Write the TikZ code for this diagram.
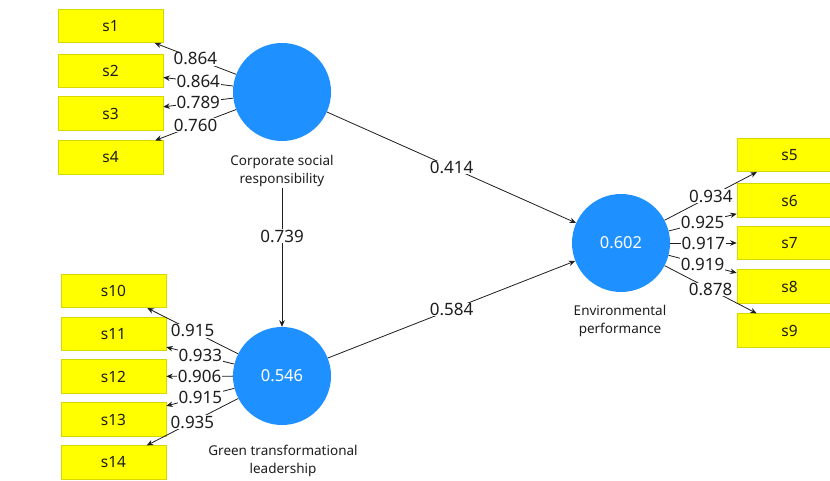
\documentclass[tikz,border=0pt]{standalone}
\usepackage{fontspec}
\setmainfont{Noto Sans}
\usetikzlibrary{arrows.meta}
\definecolor{lvblue}{RGB}{30,144,255}
\definecolor{mvyellow}{RGB}{255,255,0}
\definecolor{mvborder}{RGB}{215,215,0}
\definecolor{txt}{RGB}{30,30,30}
\tikzset{
  lv/.style={circle, fill=lvblue, draw=none, minimum size=98pt, inner sep=0pt, text=white, font=\fontsize{16.5}{18}\selectfont},
  mv/.style={rectangle, fill=mvyellow, draw=mvborder, line width=0.6pt, minimum width=105pt, minimum height=33.5pt, inner sep=0pt, text=txt, font=\fontsize{15.5}{17}\selectfont},
  lvname/.style={align=center, text=txt, font=\fontsize{13.5}{18}\selectfont, inner sep=1pt},
  conn/.style={draw=txt, line width=0.8pt, -{Stealth[length=6.5pt,width=5.5pt]}},
  val/.style={fill=white, inner sep=0.6pt, text=txt, font=\fontsize{17}{18}\selectfont},
}
\begin{document}
\begin{tikzpicture}[x=1pt,y=-1pt]
\useasboundingbox (0,0) rectangle (830,481);
\clip (0,0) rectangle (830,481);
\fill[white] (0,0) rectangle (830,481);
% latent variables
\node[lv] (csr) at (282,92) {};
\node[lv] (gtl) at (282,376) {0.546};
\node[lv] (ep) at (621,243) {0.602};
\node[lvname] (csrname) at (282,171) {Corporate social\\responsibility};
\node[lvname] (gtlname) at (283,461) {Green transformational\\leadership};
\node[lvname] (epname) at (620,321) {Environmental\\performance};
% indicators
\node[mv] (s1) at (110.5,26) {s1};
\node[mv] (s2) at (110.5,71) {s2};
\node[mv] (s3) at (110.5,113.5) {s3};
\node[mv] (s4) at (110.5,157.5) {s4};
\node[mv] (s10) at (113.5,291) {s10};
\node[mv] (s11) at (113.5,334) {s11};
\node[mv] (s12) at (113.5,376.5) {s12};
\node[mv] (s13) at (113.5,419.5) {s13};
\node[mv] (s14) at (113.5,462.5) {s14};
\node[mv] (s5) at (789.5,155) {s5};
\node[mv] (s6) at (789.5,200.5) {s6};
\node[mv] (s7) at (789.5,243) {s7};
\node[mv] (s8) at (789.5,286.5) {s8};
\node[mv] (s9) at (789.5,330.5) {s9};
% outer loadings
\draw[conn] (csr) -- node[val] {0.864} (s1);
\draw[conn] (csr) -- node[val] {0.864} (s2);
\draw[conn] (csr) -- node[val] {0.789} (s3);
\draw[conn] (csr) -- node[val] {0.760} (s4);
\draw[conn] (gtl) -- node[val] {0.915} (s10);
\draw[conn] (gtl) -- node[val] {0.933} (s11);
\draw[conn] (gtl) -- node[val] {0.906} (s12);
\draw[conn] (gtl) -- node[val] {0.915} (s13);
\draw[conn] (gtl) -- node[val] {0.935} (s14);
\draw[conn] (ep) -- node[val] {0.934} (s5);
\draw[conn] (ep) -- node[val] {0.925} (s6);
\draw[conn] (ep) -- node[val] {0.917} (s7);
\draw[conn] (ep) -- node[val] {0.919} (s8);
\draw[conn] (ep) -- node[val] {0.878} (s9);
% structural paths
\draw[conn] (csr) -- node[val] {0.414} (ep);
\draw[conn] (gtl) -- node[val] {0.584} (ep);
\draw[conn] (csrname.south) -- (gtl.north);
\node[val] (p739) at (282,236) {0.739};
\end{tikzpicture}
\end{document}
